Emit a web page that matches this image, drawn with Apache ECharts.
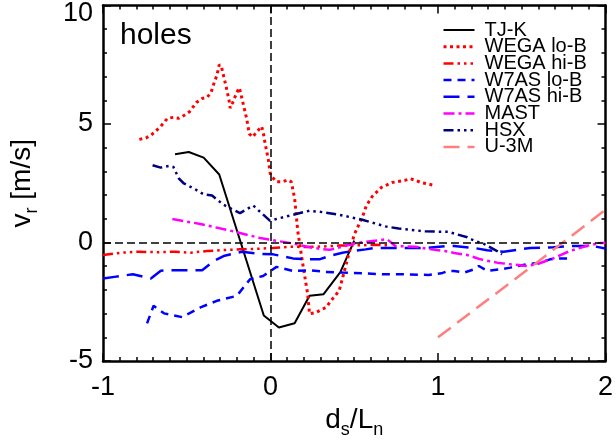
<!DOCTYPE html>
<html>
<head>
<meta charset="utf-8">
<script src="https://cdn.jsdelivr.net/npm/echarts@6/dist/echarts.min.js"></script>
<style>
  html, body { margin: 0; padding: 0; background: #ffffff; }
  #chart { width: 616px; height: 446px; }
</style>
</head>
<body>
<div id="chart"></div>
<script>
// Radial blob velocity vs. normalised blob size, one curve per device.
const xTicks = [-1, 0, 1, 2];
const yTicks = [-5, 0, 5, 10];

const seriesNames = ['TJ-K', 'WEGA lo-B', 'WEGA hi-B', 'W7AS lo-B', 'W7AS hi-B', 'MAST', 'HSX', 'U-3M'];

const tjk = [[-0.57,3.72],[-0.488,3.82],[-0.399,3.58],[-0.306,2.87],[-0.04,-3.08],[0.05,-3.59],[0.144,-3.41],[0.233,-2.25],[0.317,-2.18],[0.417,-1.25],[0.5,0.08]];

const wegaLo = [[-0.783,4.35],[-0.744,4.41],[-0.714,4.52],[-0.659,4.87],[-0.615,5.24],[-0.58,5.28],[-0.547,5.24],[-0.517,5.36],[-0.483,5.52],[-0.442,5.91],[-0.408,6.08],[-0.379,6.12],[-0.355,6.33],[-0.336,6.75],[-0.32,7.05],[-0.306,7.5],[-0.294,7.45],[-0.28,7.03],[-0.266,6.61],[-0.254,6.22],[-0.245,5.91],[-0.241,5.67],[-0.227,5.88],[-0.201,6.33],[-0.186,6.53],[-0.172,6.12],[-0.158,5.7],[-0.142,5.21],[-0.127,4.59],[-0.107,4.45],[-0.083,4.66],[-0.053,4.9],[-0.044,4.66],[-0.03,4.1],[-0.014,3.54],[0,2.85],[0.036,2.56],[0.071,2.56],[0.104,2.64],[0.124,2.56],[0.144,1.87],[0.163,0.47],[0.193,-0.92],[0.222,-2.18],[0.233,-3.01],[0.272,-2.95],[0.331,-2.74],[0.37,-2.38],[0.41,-2.04],[0.469,-0.45],[0.5,0.33],[0.55,1.1],[0.572,1.55],[0.607,1.94],[0.637,2.15],[0.663,2.33],[0.696,2.43],[0.726,2.53],[0.762,2.57],[0.801,2.62],[0.834,2.69],[0.867,2.62],[0.899,2.53],[0.933,2.48],[0.966,2.43]];

const wegaHi = [[-1,-0.53],[-0.891,-0.43],[-0.792,-0.39],[-0.674,-0.41],[-0.576,-0.39],[-0.477,-0.43],[-0.379,-0.36],[-0.28,-0.32],[-0.182,-0.29],[-0.083,-0.27],[0.016,-0.23],[0.114,-0.18],[0.213,-0.19],[0.311,-0.17],[0.41,-0.13],[0.52,-0.12],[0.62,-0.1],[0.72,-0.12]];

const w7asLo = [[-0.737,-3.41],[-0.698,-2.67],[-0.636,-2.99],[-0.527,-3.15],[-0.418,-2.74],[-0.32,-2.46],[-0.201,-2.25],[-0.122,-1.55],[-0.044,-1.41],[0.036,-1.03],[0.134,-1.2],[0.233,-1.17],[0.331,-1.24],[0.43,-1.27],[0.548,-1.3],[0.666,-1.34],[0.785,-1.34],[0.943,-1.37],[1.02,-1.3],[1.061,-1.2],[1.096,-1.2],[1.156,-1.27],[1.215,-1.13],[1.244,-0.99],[1.294,-1.2],[1.373,-1.13],[1.432,-1.06],[1.53,-0.92],[1.609,-0.85],[1.669,-0.71],[1.728,-0.67],[1.806,-0.67]];

const w7asHi = [[-1,-1.52],[-0.931,-1.45],[-0.822,-1.34],[-0.714,-1.52],[-0.655,-1.19],[-0.596,-1.17],[-0.408,-1.17],[-0.339,-0.78],[-0.28,-0.57],[-0.172,-0.39],[-0.063,-0.48],[0.016,-0.5],[0.134,-0.67],[0.213,-0.71],[0.292,-0.71],[0.351,-0.57],[0.43,-0.43],[0.489,-0.36],[0.568,-0.29],[0.627,-0.23],[0.725,-0.23],[0.923,-0.23],[1.061,-0.15],[1.096,-0.15],[1.215,-0.23],[1.294,-0.33],[1.392,-0.39],[1.491,-0.29],[1.55,-0.23],[1.688,-0.2],[1.806,-0.15],[1.925,-0.15],[2.0,-0.25]];

const mast = [[-0.586,0.99],[-0.418,0.78],[-0.221,0.47],[-0.063,0.19],[0.055,0.05],[0.134,-0.04],[0.252,-0.23],[0.353,-0.31],[0.509,-0.03],[0.696,0.14],[0.745,-0.15],[0.864,-0.18],[0.96,-0.29],[1.04,-0.36],[1.096,-0.44],[1.175,-0.53],[1.254,-0.71],[1.353,-0.85],[1.432,-0.92],[1.53,-0.99],[1.589,-0.92],[1.688,-0.67],[1.787,-0.36],[1.885,-0.15],[1.964,-0.02],[2.0,-0.02]];

const hsx = [[-0.704,3.26],[-0.655,3.16],[-0.606,3.23],[-0.58,3.19],[-0.547,2.7],[-0.517,2.49],[-0.458,2.28],[-0.399,2.03],[-0.349,1.98],[-0.28,1.59],[-0.182,1.24],[-0.103,1.56],[-0.004,0.92],[0.134,1.17],[0.233,1.34],[0.311,1.28],[0.41,1.17],[0.548,0.96],[0.686,0.68],[0.765,0.59],[0.923,0.47],[1.061,0.45],[1.175,0.22],[1.215,0.08],[1.274,-0.06],[1.353,-0.36],[1.382,-0.5]];

const u3m = [[1.0,-4.0],[1.5,-1.33],[2.0,1.38]];

const FONT = '"Liberation Sans", Arial, Helvetica, sans-serif';

function curve(name, data, color, width, dash) {
  return {
    name: name,
    type: 'line',
    data: data,
    symbol: 'none',
    showSymbol: false,
    smooth: false,
    clip: true,
    animation: false,
    lineStyle: { color: color, width: width, type: dash, cap: 'butt' },
    itemStyle: { color: color },
    z: 3
  };
}

function frameAxis(extra) {
  return Object.assign({
    type: 'value',
    axisLine: { show: true, onZero: false, lineStyle: { color: '#000', width: 2.5 } },
    axisTick: { show: true, inside: true, length: 8, lineStyle: { color: '#000', width: 1.5 } },
    splitLine: { show: false },
    minorSplitLine: { show: false }
  }, extra);
}

function minor(n) {
  return { show: true, splitNumber: n, length: 4, lineStyle: { color: '#000', width: 1.5 } };
}

const chart = echarts.init(document.getElementById('chart'), null, { renderer: 'canvas' });

const option = {
  backgroundColor: '#ffffff',
  animation: false,
  textStyle: { fontFamily: FONT },
  title: {
    text: 'holes',
    left: 120,
    top: 21,
    padding: 0,
    textStyle: { fontFamily: FONT, fontSize: 30, fontWeight: 'normal', color: '#000' }
  },
  grid: { left: 102, right: 8, top: 3, bottom: 85, containLabel: false },
  legend: {
    data: seriesNames,
    orient: 'vertical',
    left: 442,
    top: 20,
    itemWidth: 31,
    itemHeight: 14,
    itemGap: -3.3,
    padding: 0,
    selectedMode: false,
    icon: 'inherit',
    // the marker glyph a line legend adds by default is hidden; only the dashed stroke shows
    itemStyle: { opacity: 0 },
    lineStyle: { width: 'inherit', type: 'inherit', color: 'inherit' },
    textStyle: { fontFamily: FONT, fontSize: 20, color: '#000', padding: [0, 0, 0, 5] }
  },
  xAxis: [
    frameAxis({
      min: xTicks[0], max: xTicks[xTicks.length - 1], interval: 1,
      position: 'bottom',
      minorTick: minor(10),
      axisLabel: { show: true, margin: 13, fontFamily: FONT, fontSize: 27, color: '#000' },
      name: 'd{sub|s}/L{sub|n}',
      nameLocation: 'middle',
      nameGap: 39,
      nameTextStyle: {
        fontFamily: FONT, fontSize: 28, color: '#000',
        rich: { sub: { fontFamily: FONT, fontSize: 18, color: '#000', padding: [20, 0, 0, 0] } }
      }
    }),
    frameAxis({
      min: xTicks[0], max: xTicks[xTicks.length - 1], interval: 1,
      position: 'top',
      minorTick: minor(10),
      axisLabel: { show: false }
    })
  ],
  yAxis: [
    frameAxis({
      min: yTicks[0], max: yTicks[yTicks.length - 1], interval: 5,
      position: 'left',
      minorTick: minor(5),
      axisLabel: {
        show: true, margin: 10, fontFamily: FONT, fontSize: 27, color: '#000',
        formatter: function (v) { return v === yTicks[yTicks.length - 1] ? '{top|' + v + '}' : String(v); },
        rich: { top: { fontFamily: FONT, fontSize: 27, color: '#000', padding: [16, 0, 0, 0] } }
      },
      name: 'v{sub|r} [m/s]',
      nameLocation: 'middle',
      nameGap: 62,
      nameTextStyle: {
        fontFamily: FONT, fontSize: 28, color: '#000',
        rich: { sub: { fontFamily: FONT, fontSize: 18, color: '#000', padding: [20, 0, 0, 0] } }
      }
    }),
    frameAxis({
      min: yTicks[0], max: yTicks[yTicks.length - 1], interval: 5,
      position: 'right',
      minorTick: minor(5),
      axisLabel: { show: false }
    })
  ],
  series: [
    {
      name: 'zero-lines',
      type: 'line',
      data: [],
      silent: true,
      animation: false,
      markLine: {
        silent: true,
        symbol: ['none', 'none'],
        label: { show: false },
        animation: false,
        lineStyle: { color: '#000', width: 1.5, type: [8, 4] },
        data: [{ xAxis: 0 }, { yAxis: 0 }]
      },
      z: 2
    },
    curve('TJ-K', tjk, '#000000', 2, 'solid'),
    curve('WEGA lo-B', wegaLo, '#ff0000', 3, [3, 3.5]),
    curve('WEGA hi-B', wegaHi, '#ff0000', 2.5, [10, 4, 2.5, 4, 2.5, 4, 2.5, 4]),
    curve('W7AS lo-B', w7asLo, '#0000ff', 2.5, [8, 6]),
    curve('W7AS hi-B', w7asHi, '#0000ff', 2.5, [16, 8]),
    curve('MAST', mast, '#ff00ff', 2.5, [11, 4, 3, 4]),
    curve('HSX', hsx, '#00007f', 2.5, [10, 4, 2.5, 4, 2.5, 4, 2.5, 4]),
    curve('U-3M', u3m, '#ff7f7f', 2.5, [16, 8])
  ]
};

chart.setOption(option);
</script>
</body>
</html>
